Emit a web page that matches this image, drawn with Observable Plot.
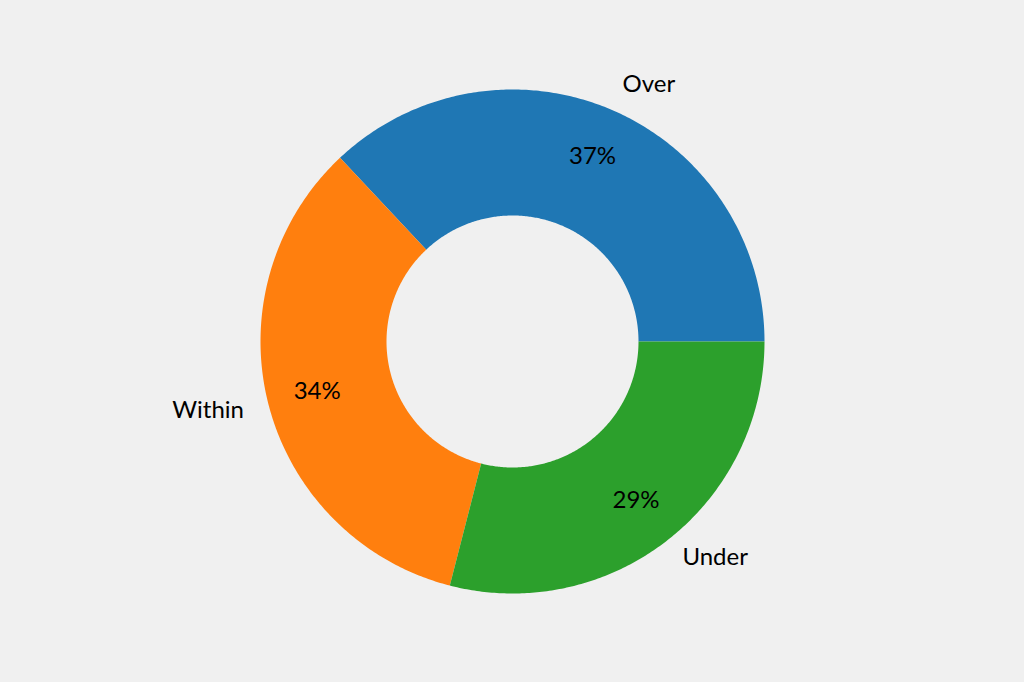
<!DOCTYPE html>
<html>
<head>
<meta charset="utf-8">
<script src="https://cdn.jsdelivr.net/npm/d3@7"></script>
<script src="https://cdn.jsdelivr.net/npm/@observablehq/plot@0.6"></script>
<style>
  html, body { margin: 0; padding: 0; background: #f0f0f0; }
  #chart svg { display: block; }
</style>
</head>
<body>
<div id="chart"></div>
<script>
const categories = ["Over", "Within", "Under"];
const values = [37, 34, 29];
const colors = ["#1f77b4", "#ff7f0e", "#2ca02c"];

const W = 1024, H = 682;
const R = 252; // outer radius in px, used to set equal-aspect scale domains
const inner = 0.5, labelDist = 1.1, pctDist = 0.8;

const total = d3.sum(values);
// start at 3 o'clock, counterclockwise
let acc = 0;
const slices = categories.map((c, i) => {
  const a0 = acc / total * 2 * Math.PI;
  acc += values[i];
  const a1 = acc / total * 2 * Math.PI;
  return {category: c, value: values[i], a0, a1, mid: (a0 + a1) / 2};
});

// Ring polygons sampled along each arc
const ring = [];
for (const s of slices) {
  const n = Math.max(2, Math.ceil((s.a1 - s.a0) / 0.01));
  for (let k = 0; k <= n; k++) {
    const a = s.a0 + (s.a1 - s.a0) * k / n;
    ring.push({category: s.category, x: Math.cos(a), y: Math.sin(a)});
  }
  for (let k = n; k >= 0; k--) {
    const a = s.a0 + (s.a1 - s.a0) * k / n;
    ring.push({category: s.category, x: inner * Math.cos(a), y: inner * Math.sin(a)});
  }
}

const labels = slices.map(s => ({
  text: s.category,
  x: labelDist * Math.cos(s.mid),
  y: labelDist * Math.sin(s.mid),
  anchor: Math.cos(s.mid) >= 0 ? "start" : "end"
}));
const pcts = slices.map(s => ({
  text: Math.round(s.value / total * 100) + "%",
  x: pctDist * Math.cos(s.mid),
  y: pctDist * Math.sin(s.mid)
}));

const chart = Plot.plot({
  width: W,
  height: H,
  margin: 0,
  style: {background: "#f0f0f0", fontFamily: "Lato, 'DejaVu Sans', sans-serif"},
  x: {domain: [-W / 2 / R, W / 2 / R], axis: null},
  y: {domain: [-H / 2 / R, H / 2 / R], axis: null},
  color: {domain: categories, range: colors},
  marks: [
    Plot.line(ring, {x: "x", y: "y", z: "category", fill: "category", stroke: null, curve: "linear"}),
    Plot.text(labels.filter(d => d.anchor === "start"), {x: "x", y: "y", text: "text", textAnchor: "start", fontSize: 24, fill: "black", dy: -3}),
    Plot.text(labels.filter(d => d.anchor === "end"), {x: "x", y: "y", text: "text", textAnchor: "end", fontSize: 24, fill: "black", dy: 0}),
    Plot.text(pcts, {x: "x", y: "y", text: "text", fontSize: 24, fill: "black", dy: 0})
  ]
});
document.getElementById("chart").appendChild(chart);
</script>
</body>
</html>
